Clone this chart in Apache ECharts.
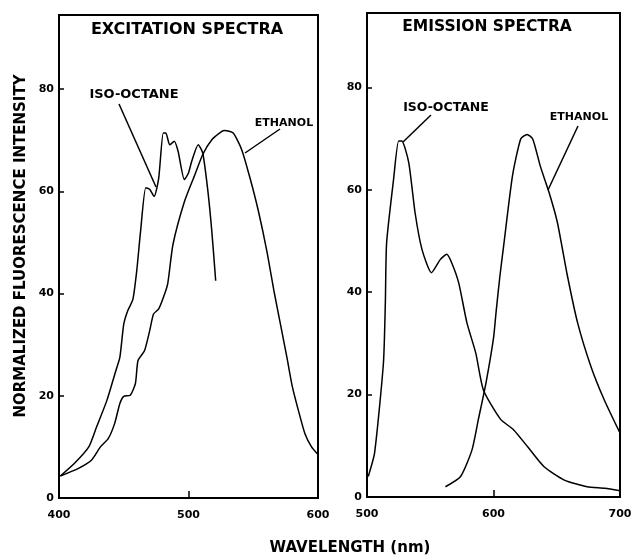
<!DOCTYPE html>
<html>
<head>
<meta charset="utf-8">
<script src="https://cdn.jsdelivr.net/npm/echarts@6/dist/echarts.min.js"></script>
<style>
  html, body { margin: 0; padding: 0; background: #fff; }
  #chart { width: 636px; height: 556px; }
</style>
</head>
<body>
<div id="chart"></div>
<script>
// excitation spectra (left panel)
var excIsoNm = [401, 412, 423, 429, 437, 444, 447, 450, 453, 457, 460, 463, 467, 470, 473.5, 477, 480.5, 482.5, 485.5, 489, 492, 496.8, 500, 502.5, 507.5, 511, 515, 518, 521];
var excIsoVal = [4.3, 6.8, 10, 13.9, 19.1, 25, 27.5, 34, 36.6, 38.8, 44.4, 52.2, 60.7, 60.4, 59, 62.6, 71.4, 71.4, 69.1, 69.8, 67.8, 62.3, 63.6, 65.9, 69.1, 67.5, 60, 52.2, 42.5];
var excEthNm = [401, 415, 425, 432, 438, 443, 447, 450, 455, 459, 461, 466, 470, 473, 477, 481, 484, 488, 497, 505, 511, 518, 525.5, 528, 534.5, 541, 547.5, 554, 560.5, 566, 571, 576, 580, 585, 590, 595, 600];
var excEthVal = [4.3, 5.8, 7.4, 10, 11.6, 14.6, 18.5, 19.9, 20.1, 22.4, 26.9, 28.8, 32.7, 36, 37, 39.5, 42, 49.6, 58.1, 63.3, 67.2, 70.1, 71.7, 71.9, 71.4, 68.2, 62.6, 56.1, 48.3, 40.5, 34, 27.5, 22, 17, 12.5, 10, 8.5];

// emission spectra (right panel)
var emIsoNm = [501, 506, 513, 514.5, 515.5, 521, 525, 527.5, 533, 538, 543.5, 551, 558, 563, 567, 572.5, 579, 586, 592, 605.5, 616, 627, 640, 656, 674, 688, 700];
var emIsoVal = [4, 8.6, 26.2, 37.9, 49.6, 62, 69.5, 69.5, 65.3, 55.5, 48.3, 43.8, 46.4, 47.4, 45.7, 41.8, 34, 28.1, 20.9, 15.2, 13.1, 9.8, 5.9, 3.3, 2.0, 1.7, 1.2];
var emEthNm = [562, 574, 583, 588, 594, 600, 602, 605, 608, 615, 621.5, 626.5, 631, 637, 644, 650.5, 658.5, 666.5, 677, 687.5, 700];
var emEthVal = [2, 4, 9.2, 15.1, 22.2, 31, 36, 43, 49, 62.7, 69.9, 70.8, 69.9, 64.6, 59.4, 53.6, 43.1, 34, 25.5, 19, 12.5];

var yTicks = [0, 20, 40, 60, 80];

function pairs(xs, ys) {
  return xs.map(function (x, i) { return [x, ys[i]]; });
}

var font = "DejaVu Sans";

function xAxisOf(idx, min, max) {
  return {
    gridIndex: idx, type: "value", min: min, max: max, interval: 100,
    axisLine: { lineStyle: { color: "#000", width: 2 } },
    axisTick: { inside: true, length: 7, lineStyle: { color: "#000", width: 1.5 } },
    axisLabel: { color: "#000", fontFamily: font, fontWeight: "bold", fontSize: 11, margin: 12 },
    splitLine: { show: false }
  };
}
function yAxisOf(idx) {
  return {
    gridIndex: idx, type: "value", min: 0, max: 94.5,
    axisLine: { show: true, lineStyle: { color: "#000", width: 2 } },
    axisTick: { show: true, inside: true, length: 5, customValues: yTicks, lineStyle: { color: "#000", width: 1.5 } },
    axisLabel: { color: "#000", fontFamily: font, fontWeight: "bold", fontSize: 11, margin: 5, customValues: yTicks },
    splitLine: { show: false }
  };
}
function curve(idx, data) {
  return {
    type: "line", xAxisIndex: idx, yAxisIndex: idx, data: data,
    showSymbol: false, smooth: 0.2, silent: true,
    lineStyle: { color: "#000", width: 1.5 }
  };
}
function label(text, x, y, size) {
  return {
    type: "text", x: x, y: y,
    style: { text: text, fill: "#000", font: "bold " + size + "px " + font, textAlign: "center", textVerticalAlign: "middle" }
  };
}
function leader(x1, y1, x2, y2) {
  return { type: "line", shape: { x1: x1, y1: y1, x2: x2, y2: y2 }, style: { stroke: "#000", lineWidth: 1.5 } };
}

var chart = echarts.init(document.getElementById("chart"));
chart.setOption({
  animation: false,
  backgroundColor: "#fff",
  grid: [
    { left: 59, top: 15, width: 259, height: 483, show: true, borderColor: "#000", borderWidth: 2 },
    { left: 367, top: 13, width: 253, height: 484, show: true, borderColor: "#000", borderWidth: 2 }
  ],
  xAxis: [xAxisOf(0, 400, 600), xAxisOf(1, 500, 700)],
  yAxis: [yAxisOf(0), yAxisOf(1)],
  series: [
    curve(0, pairs(excIsoNm, excIsoVal)),
    curve(0, pairs(excEthNm, excEthVal)),
    curve(1, pairs(emIsoNm, emIsoVal)),
    curve(1, pairs(emEthNm, emEthVal))
  ],
  graphic: [
    label("EXCITATION SPECTRA", 187, 30, 16),
    label("EMISSION SPECTRA", 487, 27, 15.5),
    label("ISO-OCTANE", 134, 95, 13),
    label("ETHANOL", 284, 123, 11),
    label("ISO-OCTANE", 446, 108, 12.5),
    label("ETHANOL", 579, 117, 11),
    leader(119, 104, 156, 187),
    leader(280, 129, 245, 153),
    leader(431, 115, 403, 142),
    leader(578, 126, 548, 190),
    {
      type: "text", x: 21, y: 246, rotation: Math.PI / 2,
      style: { text: "NORMALIZED FLUORESCENCE INTENSITY", fill: "#000", font: "bold 15px " + font, textAlign: "center", textVerticalAlign: "middle" }
    },
    {
      type: "text", x: 350, y: 548,
      style: { text: "WAVELENGTH (nm)", fill: "#000", font: "bold 15px " + font, textAlign: "center", textVerticalAlign: "middle" }
    }
  ]
});
</script>
</body>
</html>
